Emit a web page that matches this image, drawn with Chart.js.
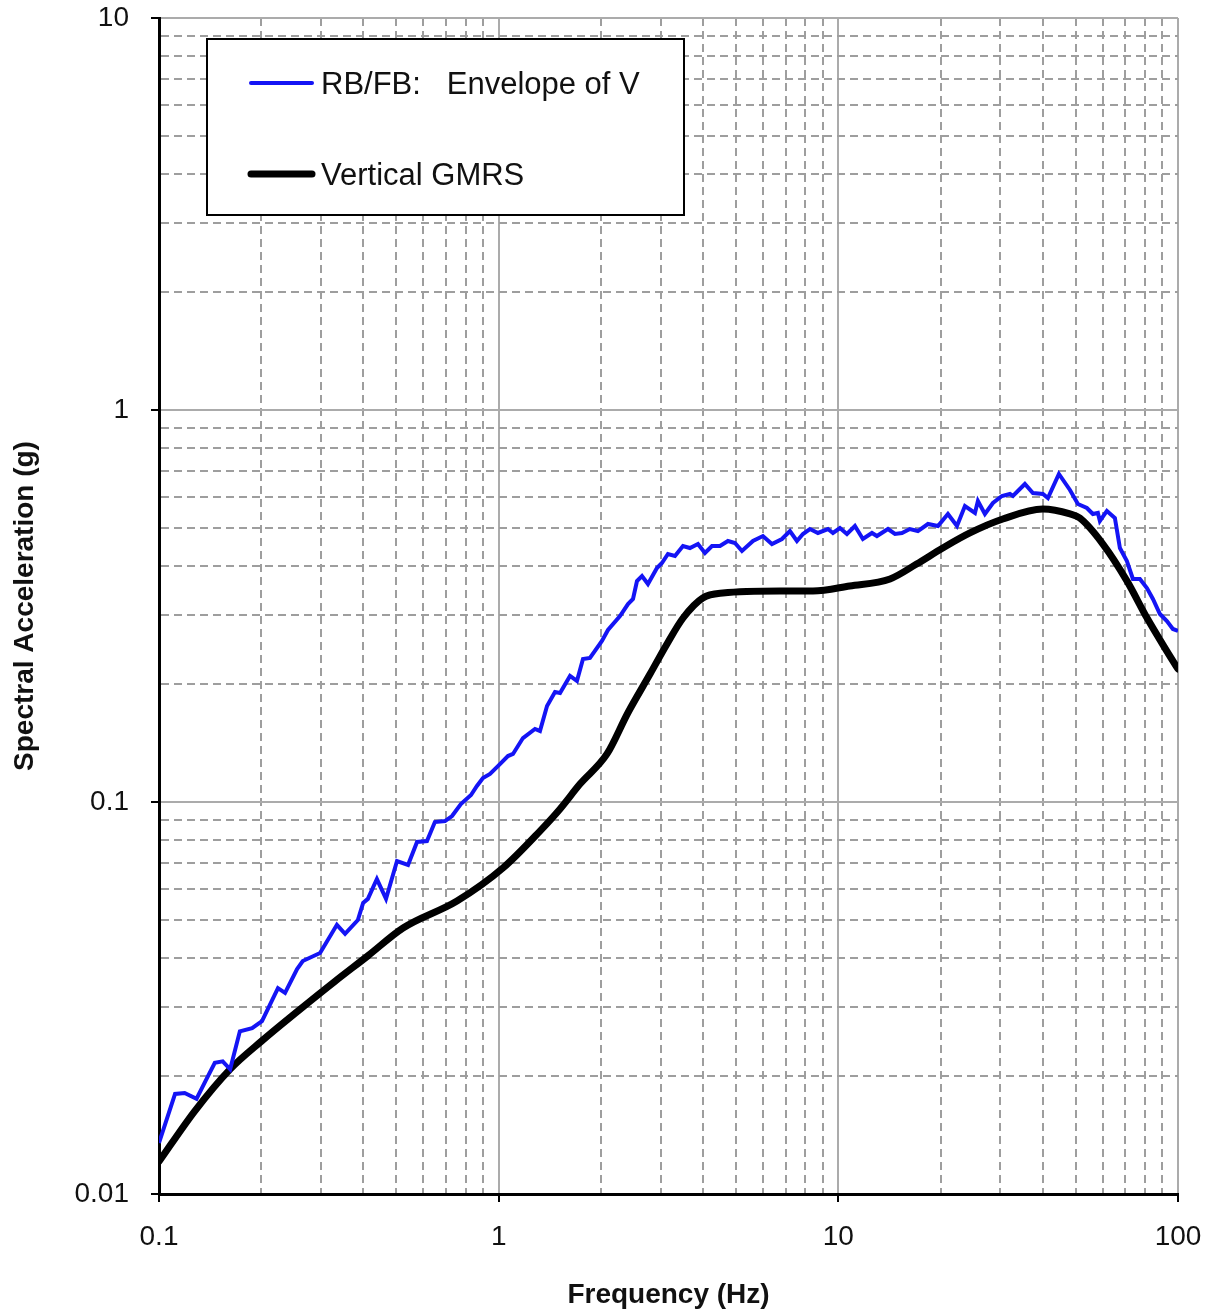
<!DOCTYPE html>
<html>
<head>
<meta charset="utf-8">
<script src="https://cdn.jsdelivr.net/npm/chart.js@4.4.1/dist/chart.umd.min.js"></script>
<style>
  body { margin: 0; background: #fff; }
  #wrap { width: 1217px; height: 1314px; position: relative; }
</style>
</head>
<body>
<div id="wrap"><canvas id="spectraChart"></canvas></div>
<script>
// RB/FB envelope of vertical spectra (jagged)
var envFreq = [0.1, 0.1115, 0.119, 0.129, 0.137, 0.146, 0.154, 0.162, 0.173, 0.188,
  0.201, 0.224, 0.235, 0.255, 0.265, 0.298, 0.334, 0.353, 0.385, 0.399,
  0.412, 0.438, 0.466, 0.502, 0.541, 0.575, 0.615, 0.649, 0.695, 0.729,
  0.774, 0.829, 0.863, 0.899, 0.943, 0.995, 1.065, 1.102, 1.179, 1.279,
  1.323, 1.388, 1.465, 1.516, 1.622, 1.700, 1.771, 1.857, 2.014, 2.098,
  2.276, 2.403, 2.486, 2.554, 2.642, 2.751, 2.924, 3.025, 3.150, 3.304,
  3.488, 3.657, 3.861, 4.049, 4.246, 4.483, 4.732, 4.962, 5.203, 5.606,
  5.998, 6.375, 6.823, 7.203, 7.553, 7.867, 8.248, 8.709, 9.320, 9.642,
  10.11, 10.60, 11.19, 11.81, 12.56, 12.99, 14.00, 14.68, 15.39, 16.24,
  17.15, 18.36, 19.65, 21.02, 22.35, 23.59, 25.25, 25.76, 27.01, 28.52,
  30.31, 32.00, 32.66, 35.42, 37.40, 40.03, 41.40, 44.60, 48.07, 50.74,
  53.92, 56.16, 58.09, 58.89, 61.75, 65.19, 67.45, 70.72, 73.66, 77.24,
  81.00, 84.37, 88.46, 92.75, 96.6, 100];
var envSa = [0.0135, 0.0180, 0.0181, 0.0175, 0.0194, 0.0216, 0.0218, 0.0208, 0.0260, 0.0265,
  0.0276, 0.0335, 0.0326, 0.0375, 0.0393, 0.0412, 0.0486, 0.0461, 0.0500, 0.0553,
  0.0566, 0.0636, 0.0566, 0.0707, 0.0691, 0.0791, 0.0795, 0.0889, 0.0894, 0.0921,
  0.0988, 0.1042, 0.1099, 0.1151, 0.1179, 0.1235, 0.1310, 0.1326, 0.1456, 0.1536,
  0.1518, 0.1758, 0.1908, 0.1897, 0.2097, 0.2036, 0.2317, 0.2331, 0.2575, 0.2747,
  0.2982, 0.3199, 0.3295, 0.3663, 0.3772, 0.3599, 0.3953, 0.4071, 0.4292, 0.4242,
  0.4498, 0.4446, 0.4551, 0.4317, 0.4498, 0.4498, 0.4632, 0.4578, 0.4368, 0.4632,
  0.4770, 0.4551, 0.4687, 0.4912, 0.4632, 0.4827, 0.4970, 0.4856, 0.4970, 0.4856,
  0.5000, 0.4827, 0.5059, 0.4687, 0.4856, 0.4770, 0.4970, 0.4827, 0.4856, 0.4970,
  0.4912, 0.5119, 0.5059, 0.5430, 0.5059, 0.5689, 0.5462, 0.5859, 0.5430, 0.5790,
  0.6033, 0.6105, 0.6033, 0.6476, 0.6141, 0.6105, 0.5963, 0.6868, 0.6251, 0.5756,
  0.5623, 0.5430, 0.5462, 0.5210, 0.5526, 0.5303, 0.4446, 0.4119, 0.3707, 0.3707,
  0.3514, 0.3295, 0.3017, 0.2896, 0.2763, 0.2731];

// vertical GMRS (smooth)
var gmrsFreq = [0.1, 0.1276, 0.1618, 0.201, 0.2566, 0.330, 0.412, 0.523, 0.754, 1.03,
  1.323, 1.516, 1.735, 2.084, 2.40, 2.79, 3.13, 3.49, 3.99, 4.57,
  6.73, 8.42, 10.8, 14.2, 17.0, 20.3, 24.4, 30.5, 40.0, 48.1,
  51.4, 60.1, 70.8, 81.0, 92.7, 100];
var gmrsSa = [0.0121, 0.0163, 0.0208, 0.0246, 0.0293, 0.0349, 0.0405, 0.0477, 0.0559, 0.0679,
  0.0843, 0.0960, 0.1111, 0.1326, 0.1687, 0.212, 0.253, 0.2947, 0.3315, 0.3413,
  0.3453, 0.3453, 0.3557, 0.3707, 0.4046, 0.4445, 0.4856, 0.527, 0.559, 0.543,
  0.530, 0.455, 0.366, 0.295, 0.2427, 0.2184];

var seriesLabels = ['RB/FB:   Envelope of V', 'Vertical GMRS'];

var xDecades = [0.1, 1, 10, 100];
var xDecadeLabels = ['0.1', '1', '10', '100'];
var yDecades = [0.01, 0.1, 1, 10];
var yDecadeLabels = ['0.01', '0.1', '1', '10'];
var minorSteps = [2, 3, 4, 5, 6, 7, 8, 9];

var FONT = "'Liberation Sans', Arial, sans-serif";

function gridTicks(decades) {
  var out = [];
  decades.forEach(function (d, i) {
    out.push({ value: d, major: true });
    if (i < decades.length - 1) {
      minorSteps.forEach(function (s) {
        out.push({ value: +(d * s).toPrecision(6), major: false });
      });
    }
  });
  return out;
}

function pairs(xs, ys) {
  return xs.map(function (x, i) { return { x: x, y: ys[i] }; });
}

var gridOpts = {
  color: function (ctx) { return ctx.tick && ctx.tick.major ? '#ababab' : '#9e9e9e'; },
  lineWidth: 2,
  tickColor: function (ctx) { return ctx.tick && ctx.tick.major ? '#000' : 'rgba(0,0,0,0)'; },
  tickLength: 8,
  tickWidth: 2
};
var borderOpts = {
  color: '#000',
  width: 3,
  dash: function (ctx) { return ctx.tick && !ctx.tick.major ? [8, 5] : []; }
};

// legend box drawn inside the plot, as in the original figure
var boxLegend = {
  id: 'boxLegend',
  afterDraw: function (chart) {
    var c = chart.ctx;
    c.save();
    c.fillStyle = '#fff';
    c.fillRect(207, 39, 477, 176);
    c.strokeStyle = '#000';
    c.lineWidth = 2;
    c.strokeRect(207, 39, 477, 176);
    var rows = [83, 174];
    chart.data.datasets.forEach(function (ds, i) {
      c.beginPath();
      c.strokeStyle = ds.borderColor;
      c.lineWidth = i === 0 ? 4 : 7;
      c.lineCap = 'round';
      c.moveTo(251, rows[i]);
      c.lineTo(312, rows[i]);
      c.stroke();
      c.fillStyle = '#111';
      c.font = '31px ' + FONT;
      c.textBaseline = 'middle';
      c.fillText(ds.label, 321, rows[i] + 2);
    });
    c.restore();
  }
};

new Chart(document.getElementById('spectraChart'), {
  type: 'line',
  data: {
    datasets: [{
      label: seriesLabels[0],
      data: pairs(envFreq, envSa),
      borderColor: '#1414f5',
      borderWidth: 4,
      pointRadius: 0,
      tension: 0
    }, {
      label: seriesLabels[1],
      data: pairs(gmrsFreq, gmrsSa),
      borderColor: '#000',
      borderWidth: 7,
      pointRadius: 0,
      borderCapStyle: 'round',
      tension: 0.3,
      cubicInterpolationMode: 'monotone'
    }]
  },
  options: {
    responsive: true,
    maintainAspectRatio: false,
    animation: false,
    layout: { padding: { left: 0, top: 18, right: 39, bottom: 0 } },
    plugins: { legend: { display: false }, tooltip: { enabled: false } },
    scales: {
      x: {
        type: 'logarithmic',
        min: 0.1,
        max: 100,
        afterBuildTicks: function (scale) { scale.ticks = gridTicks(xDecades); },
        afterFit: function (scale) {
          scale.height = 120;
          scale.paddingLeft = 0;
          scale.paddingRight = 0;
        },
        grid: gridOpts,
        border: borderOpts,
        ticks: {
          autoSkip: false,
          maxRotation: 0,
          padding: 18,
          color: '#111',
          font: { family: FONT, size: 28 },
          callback: function (value) {
            var k = xDecades.indexOf(value);
            return k >= 0 ? xDecadeLabels[k] : '';
          }
        },
        title: {
          display: true,
          text: 'Frequency (Hz)',
          color: '#111',
          font: { family: FONT, size: 28, weight: 'bold' },
          padding: { top: 0, bottom: 2 }
        }
      },
      y: {
        type: 'logarithmic',
        min: 0.01,
        max: 10,
        afterBuildTicks: function (scale) { scale.ticks = gridTicks(yDecades); },
        afterFit: function (scale) {
          scale.width = 159;
          scale.paddingTop = 0;
          scale.paddingBottom = 0;
        },
        grid: gridOpts,
        border: borderOpts,
        ticks: {
          autoSkip: false,
          padding: 22,
          color: '#111',
          font: { family: FONT, size: 28 },
          callback: function (value) {
            var k = yDecades.indexOf(value);
            return k >= 0 ? yDecadeLabels[k] : '';
          }
        },
        title: {
          display: true,
          text: 'Spectral Acceleration (g)',
          color: '#111',
          font: { family: FONT, size: 28, weight: 'bold' },
          padding: { top: 8, bottom: 0 }
        }
      }
    }
  },
  plugins: [boxLegend]
});
</script>
</body>
</html>
